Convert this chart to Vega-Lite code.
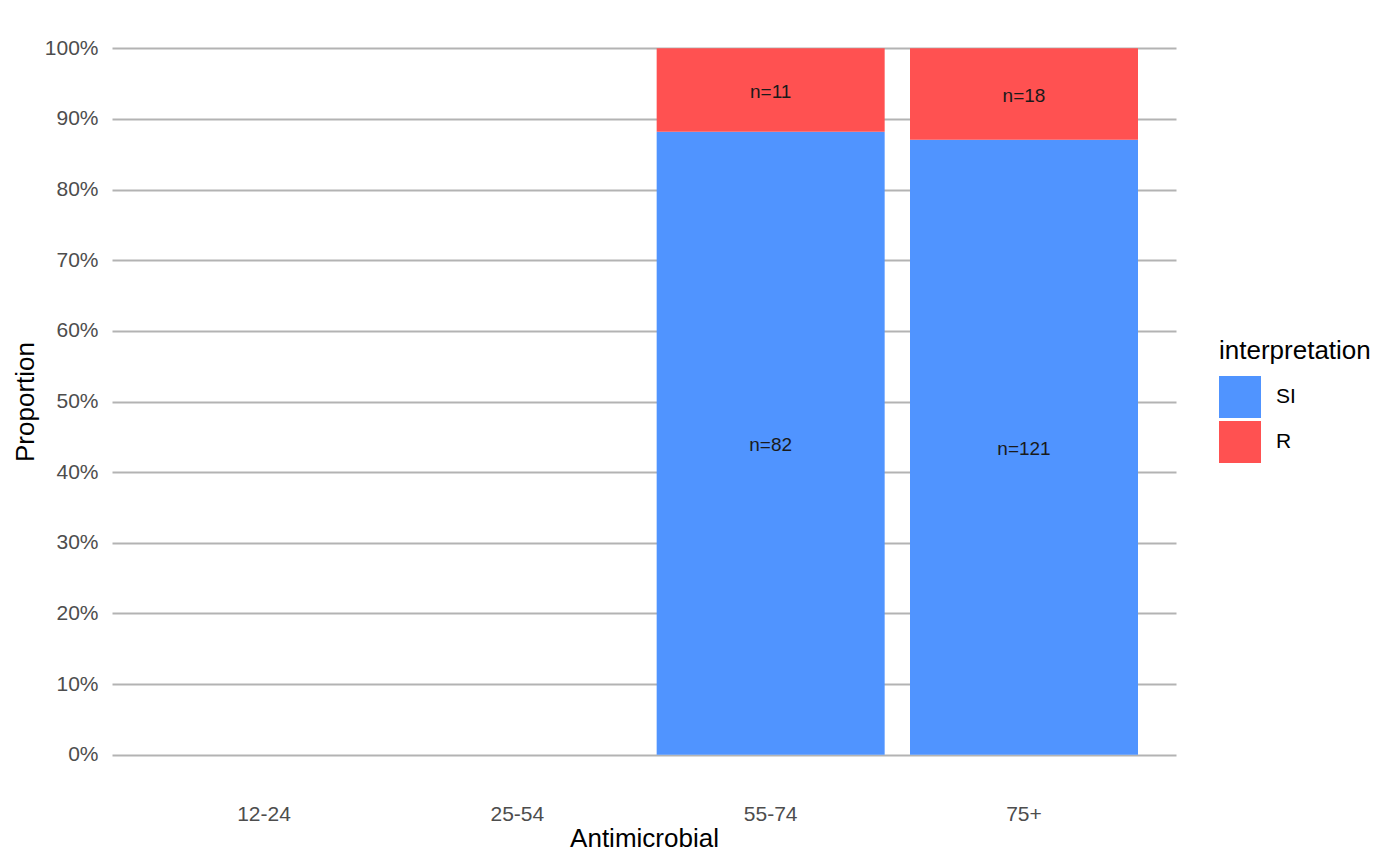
{
  "$schema": "https://vega.github.io/schema/vega-lite/v6.json",
  "width": 1064,
  "height": 777,
  "autosize": "none",
  "padding": {"left": 112, "top": 13, "right": 224, "bottom": 76},
  "background": "white",
  "config": {
    "view": {"stroke": null},
    "font": "Liberation Sans",
    "axis": {"labelFont": "Liberation Sans", "titleFont": "Liberation Sans"}
  },
  "data": {
    "values": [
      {"age": "55-74", "interpretation": "SI", "n": 82},
      {"age": "55-74", "interpretation": "R", "n": 11},
      {"age": "75+", "interpretation": "SI", "n": 121},
      {"age": "75+", "interpretation": "R", "n": 18}
    ]
  },
  "transform": [
    {"stack": "n", "groupby": ["age"], "offset": "normalize", "sort": [{"field": "interpretation", "order": "descending"}], "as": ["p0", "p1"]},
    {"calculate": "(datum.p0 + datum.p1) / 2", "as": "pmid"},
    {"calculate": "'n=' + datum.n", "as": "lab"}
  ],
  "encoding": {
    "x": {
      "field": "age",
      "type": "nominal",
      "scale": {"domain": ["12-24", "25-54", "55-74", "75+"], "paddingInner": 0.1, "paddingOuter": 0.15},
      "axis": {
        "title": "Antimicrobial",
        "labelAngle": 0,
        "domain": false,
        "ticks": false,
        "grid": false,
        "labelFontSize": 21,
        "labelColor": "#4d4d4d",
        "labelPadding": 13,
        "titleFontSize": 26,
        "titleFontWeight": "normal",
        "titleColor": "#000000",
        "titlePadding": 1
      }
    }
  },
  "layer": [
    {
      "mark": {"type": "bar"},
      "encoding": {
        "y": {
          "field": "p0",
          "type": "quantitative",
          "scale": {"domain": [-0.05, 1.05], "nice": false, "zero": false},
          "axis": {
            "title": "Proportion",
            "format": ".0%",
            "values": [0, 0.1, 0.2, 0.3, 0.4, 0.5, 0.6, 0.7, 0.8, 0.9, 1],
            "domain": false,
            "ticks": false,
            "grid": true,
            "gridColor": "#b3b3b3",
            "gridWidth": 2,
            "labelFontSize": 21,
            "labelColor": "#4d4d4d",
            "labelPadding": 14,
            "titleFontSize": 26,
            "titleFontWeight": "normal",
            "titleColor": "#000000",
            "titlePadding": 6
          }
        },
        "y2": {"field": "p1"},
        "color": {
          "field": "interpretation",
          "type": "nominal",
          "scale": {"domain": ["SI", "R"], "range": ["#5094FF", "#FF5151"]},
          "legend": {
            "title": "interpretation",
            "orient": "none",
            "legendX": 1107,
            "legendY": 325,
            "symbolType": "square",
            "symbolSize": 1764,
            "symbolStrokeWidth": 0,
            "symbolOpacity": 1,
            "titleFontSize": 26,
            "titleFontWeight": "normal",
            "titleColor": "#000000",
            "titlePadding": 12,
            "labelFontSize": 21,
            "labelColor": "#000000",
            "labelOffset": 15,
            "rowPadding": 3
          }
        }
      }
    },
    {
      "mark": {"type": "text", "fontSize": 19, "color": "#1a1a1a", "baseline": "middle", "dy": 2},
      "encoding": {
        "y": {"field": "pmid", "type": "quantitative"},
        "text": {"field": "lab"}
      }
    }
  ]
}
